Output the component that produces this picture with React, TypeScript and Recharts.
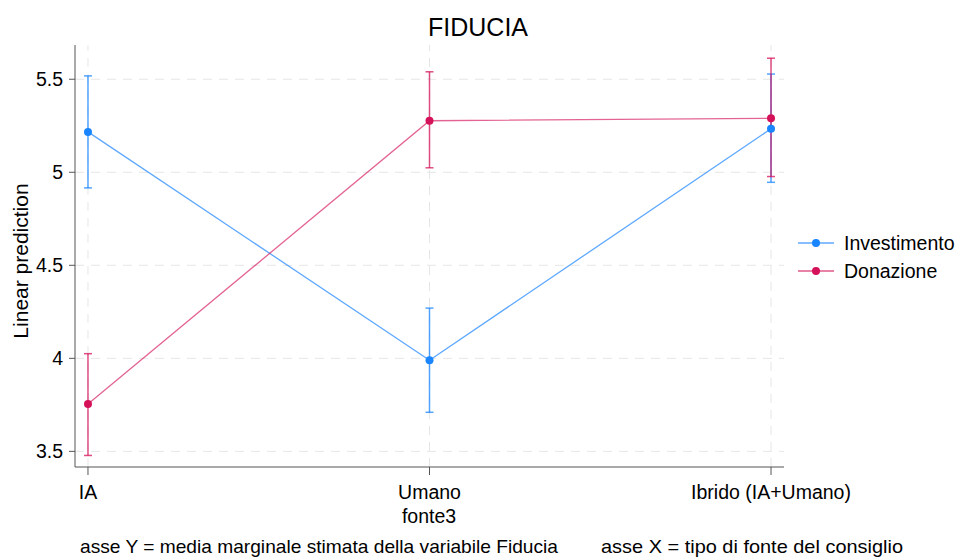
import React from 'react';
import {
  ComposedChart,
  Line,
  XAxis,
  YAxis,
  ErrorBar,
  Legend,
  Customized,
  ReferenceLine,
} from 'recharts';

const categories = ['IA', 'Umano', 'Ibrido (IA+Umano)'];
const investimentoMean = [5.217, 3.99, 5.234];
const investimentoLow = [4.916, 3.71, 4.946];
const investimentoHigh = [5.518, 4.27, 5.528];
const donazioneMean = [3.754, 5.277, 5.29];
const donazioneLow = [3.478, 5.024, 4.977];
const donazioneHigh = [4.025, 5.54, 5.613];
const yTicks = [3.5, 4, 4.5, 5, 5.5];
const seriesNames = ['Investimento', 'Donazione'];
const noteY = 'asse Y = media marginale stimata della variabile Fiducia';
const noteX = 'asse X = tipo di fonte del consiglio';

const BLUE = '#1a85ff';
const PINK = '#d41159';
const FONT = '"Liberation Sans", Arial, sans-serif';
const FS = 19.5;
const GRID = '#e6e6e6';

const data = categories.map((c, i) => ({
  x: i,
  name: c,
  inv: investimentoMean[i],
  invErr: [investimentoMean[i] - investimentoLow[i], investimentoHigh[i] - investimentoMean[i]],
  don: donazioneMean[i],
  donErr: [donazioneMean[i] - donazioneLow[i], donazioneHigh[i] - donazioneMean[i]],
}));

const LegendContent = () => (
  <div style={{ fontFamily: FONT, fontSize: FS, color: '#000', width: 160 }}>
    {seriesNames.map((n, i) => {
      const col = i === 0 ? BLUE : PINK;
      return (
        <div key={n} style={{ display: 'flex', alignItems: 'center', height: 28 }}>
          <svg width={44} height={12} style={{ marginRight: 4 }}>
            <line x1={2} y1={6} x2={38} y2={6} stroke={col} strokeOpacity={0.7} strokeWidth={1.5} />
            <circle cx={20} cy={6} r={4} fill={col} />
          </svg>
          <span>{n}</span>
        </div>
      );
    })}
  </div>
);

const Texts = () => (
  <g fontFamily={FONT} fill="#000">
    <text x={478} y={36} textAnchor="middle" fontSize={25}>FIDUCIA</text>
    <text x={429} y={523} textAnchor="middle" fontSize={FS}>fonte3</text>
    <text x={28} y={261} textAnchor="middle" fontSize={21} transform="rotate(-90 28 261)">Linear prediction</text>
    <text x={80} y={553} fontSize={19} textLength={478} lengthAdjust="spacingAndGlyphs">{noteY}</text>
    <text x={601} y={553} fontSize={19} textLength={302} lengthAdjust="spacingAndGlyphs">{noteX}</text>
  </g>
);

export default function App() {
  return (
    <div style={{ position: 'absolute', left: 0, top: 0, background: '#fff' }}>
      <ComposedChart
        width={956}
        height={558}
        data={data}
        margin={{ top: 45, right: 12, bottom: 61, left: 0 }}
      >
        <XAxis
          type="number"
          dataKey="x"
          domain={[-0.038, 2.038]}
          ticks={[0, 1, 2]}
          tickFormatter={(v: number) => categories[v]}
          tickSize={8}
          tickMargin={10}
          height={30}
          stroke="#555"
          tick={{ fill: '#000', fontSize: FS, fontFamily: FONT }}
          interval={0}
          allowDataOverflow
        />
        <YAxis
          type="number"
          domain={[3.416, 5.684]}
          ticks={yTicks}
          width={75}
          tickSize={6}
          tickMargin={6}
          stroke="#555"
          tick={{ fill: '#000', fontSize: FS, fontFamily: FONT }}
          tickFormatter={(v: number) => String(v)}
          allowDataOverflow
        />
        {yTicks.map((t) => (
          <ReferenceLine key={'h' + t} y={t} stroke={GRID} strokeDasharray="9 7" strokeWidth={1} />
        ))}
        {categories.map((c, i) => (
          <ReferenceLine key={'v' + c} x={i} stroke={GRID} strokeDasharray="9 7" strokeWidth={1} />
        ))}
        <Line
          dataKey="inv"
          name={seriesNames[0]}
          stroke={BLUE}
          strokeOpacity={0.7}
          strokeWidth={1.3}
          dot={{ r: 4, fill: BLUE, stroke: 'none', fillOpacity: 1 }}
          isAnimationActive={false}
        >
          <ErrorBar dataKey="invErr" direction="y" width={4} stroke={BLUE} strokeOpacity={0.75} strokeWidth={1.5} />
        </Line>
        <Line
          dataKey="don"
          name={seriesNames[1]}
          stroke={PINK}
          strokeOpacity={0.65}
          strokeWidth={1.3}
          dot={{ r: 4, fill: PINK, stroke: 'none', fillOpacity: 1 }}
          isAnimationActive={false}
        >
          <ErrorBar dataKey="donErr" direction="y" width={4} stroke={PINK} strokeOpacity={0.75} strokeWidth={1.5} />
        </Line>
        <Legend
          layout="vertical"
          align="right"
          verticalAlign="top"
          content={<LegendContent />}
          wrapperStyle={{ position: 'absolute', left: 796, top: 229, width: 160 }}
        />
        <Customized component={Texts} />
      </ComposedChart>
    </div>
  );
}
